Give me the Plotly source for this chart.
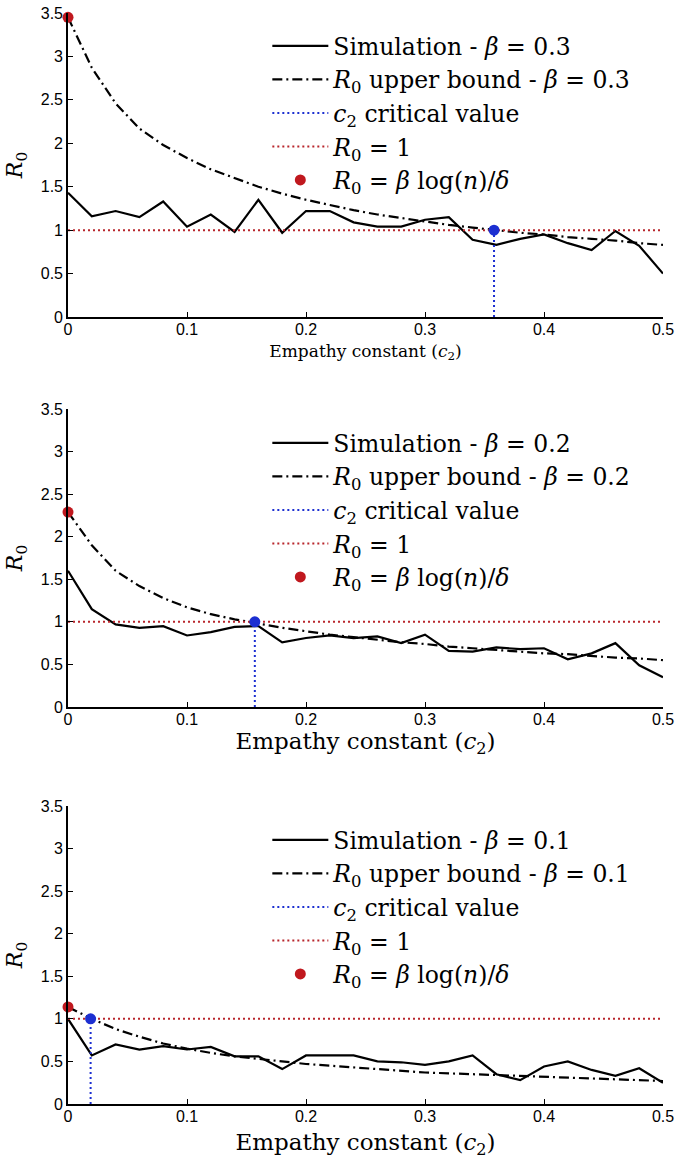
import plotly.graph_objects as go

# ---------------- data ----------------
c2 = [0.00, 0.02, 0.04, 0.06, 0.08, 0.10, 0.12, 0.14, 0.16, 0.18, 0.20, 0.22, 0.24,
      0.26, 0.28, 0.30, 0.32, 0.34, 0.36, 0.38, 0.40, 0.42, 0.44, 0.46, 0.48, 0.50]

sim_b03 = [1.43, 1.16, 1.22, 1.15, 1.33, 1.04, 1.18, 0.98, 1.35, 0.97, 1.22, 1.22, 1.09,
           1.04, 1.04, 1.12, 1.15, 0.89, 0.83, 0.90, 0.95, 0.85, 0.77, 0.99, 0.82, 0.50]
bound_b03 = [3.45, 2.87, 2.46, 2.17, 1.98, 1.83, 1.70, 1.60, 1.50, 1.42, 1.35, 1.29, 1.23,
             1.18, 1.14, 1.10, 1.06, 1.03, 1.00, 0.97, 0.95, 0.92, 0.90, 0.88, 0.85, 0.83]

sim_b02 = [1.60, 1.15, 0.97, 0.93, 0.95, 0.84, 0.88, 0.94, 0.95, 0.76, 0.81, 0.84, 0.81,
           0.83, 0.75, 0.85, 0.66, 0.65, 0.70, 0.68, 0.69, 0.56, 0.63, 0.75, 0.49, 0.35]
bound_b02 = [2.29, 1.90, 1.60, 1.42, 1.28, 1.17, 1.09, 1.03, 0.98, 0.93, 0.89, 0.85, 0.82,
             0.79, 0.76, 0.74, 0.71, 0.69, 0.67, 0.65, 0.63, 0.62, 0.60, 0.58, 0.57, 0.55]

sim_b01 = [1.00, 0.57, 0.70, 0.64, 0.68, 0.64, 0.67, 0.56, 0.56, 0.41, 0.57, 0.57, 0.57,
           0.50, 0.49, 0.46, 0.50, 0.57, 0.35, 0.28, 0.44, 0.50, 0.40, 0.33, 0.42, 0.25]
bound_b01 = [1.14, 1.00, 0.88, 0.79, 0.71, 0.65, 0.60, 0.56, 0.53, 0.50, 0.47, 0.45, 0.43,
             0.41, 0.39, 0.37, 0.36, 0.35, 0.34, 0.33, 0.32, 0.31, 0.30, 0.29, 0.28, 0.27]

betas = ["0.3", "0.2", "0.1"]
sims = [sim_b03, sim_b02, sim_b01]
bounds = [bound_b03, bound_b02, bound_b01]
critical_c2 = [0.358, 0.157, 0.019]
r0_start = [3.45, 2.29, 1.14]

x_ticks = [0, 0.1, 0.2, 0.3, 0.4, 0.5]
y_ticks = [0, 0.5, 1, 1.5, 2, 2.5, 3, 3.5]

# ---------------- style ----------------
SERIF = "DejaVu Serif"
SANS = "Liberation Sans"
RED = "#c0181e"
RED_LINE = "#b8262c"
BLUE = "#1c2fd1"

W, H = 675, 1162
ML, MR, MT, MB = 68, 12, 13, 58
ph = H - MT - MB
def yfrac(py):
    return (H - MB - py) / ph

panel_px = [(13, 317), (409, 707), (806, 1104)]
legend_top_px = [24, 421, 818]
title_sizes = [17, 23, 23]
title_standoff = [8, 4, 10]

fig = go.Figure()
layout = {}
for i in range(3):
    suf = "" if i == 0 else str(i + 1)
    xa, ya = "x" + suf, "y" + suf
    leg = "legend" + suf
    b = betas[i]
    fig.add_trace(go.Scatter(
        x=c2, y=sims[i], mode="lines", xaxis=xa, yaxis=ya, legend=leg,
        line=dict(color="black", width=2.2),
        name=f"Simulation - <i>β</i> = {b}"))
    fig.add_trace(go.Scatter(
        x=c2, y=bounds[i], mode="lines", xaxis=xa, yaxis=ya, legend=leg,
        line=dict(color="black", width=2.2, dash="10px,4px,2px,4px"),
        name=f"<i>R</i><sub>0</sub> upper bound - <i>β</i> = {b}"))
    fig.add_trace(go.Scatter(
        x=[critical_c2[i], critical_c2[i]], y=[0, 1], mode="lines",
        xaxis=xa, yaxis=ya, legend=leg,
        line=dict(color=BLUE, width=2, dash="2px,3px"),
        name="<i>c</i><sub>2</sub> critical value"))
    fig.add_trace(go.Scatter(
        x=[0, 0.5], y=[1, 1], mode="lines", xaxis=xa, yaxis=ya, legend=leg,
        line=dict(color=RED_LINE, width=2, dash="2px,3px"),
        name="<i>R</i><sub>0</sub> = 1"))
    fig.add_trace(go.Scatter(
        x=[critical_c2[i]], y=[1], mode="markers", xaxis=xa, yaxis=ya,
        showlegend=False, cliponaxis=False,
        marker=dict(color=BLUE, size=11)))
    fig.add_trace(go.Scatter(
        x=[0], y=[r0_start[i]], mode="markers", xaxis=xa, yaxis=ya, legend=leg,
        cliponaxis=False,
        marker=dict(color=RED, size=11),
        name="<i>R</i><sub>0</sub> = <i>β</i> log(<i>n</i>)/<i>δ</i>"))

    top, bot = panel_px[i]
    layout["xaxis" + suf] = dict(
        domain=[0, 1], anchor=ya, range=[0, 0.5], tickvals=x_ticks,
        automargin=False, ticklabelstandoff=-3, ticklabeloverflow="allow",
        ticks="inside", ticklen=5, tickwidth=1.3, tickcolor="black",
        showline=True, linecolor="black", linewidth=1.6, showgrid=False,
        zeroline=False, tickfont=dict(family=SANS, size=16, color="black"),
        title=dict(text="Empathy constant (<i>c</i><sub>2</sub>)",
                   font=dict(family=SERIF, size=title_sizes[i], color="black"),
                   standoff=title_standoff[i]))
    layout["yaxis" + suf] = dict(
        domain=[yfrac(bot), yfrac(top)], anchor=xa, range=[0, 3.5], tickvals=y_ticks,
        automargin=False, ticklabelstandoff=0, ticklabeloverflow="allow",
        ticks="inside", ticklen=5, tickwidth=1.3, tickcolor="black",
        showline=True, linecolor="black", linewidth=1.6, showgrid=False,
        zeroline=False, tickfont=dict(family=SANS, size=16, color="black"),
        title=dict(text="<i>R</i><sub>0</sub>",
                   font=dict(family=SERIF, size=22, color="black"), standoff=12))
    layout["legend" + suf] = dict(
        x=0.335, xanchor="left", y=yfrac(legend_top_px[i]), yanchor="top",
        bgcolor="rgba(0,0,0,0)", borderwidth=0, itemwidth=56,
        traceorder="normal", tracegroupgap=0,
        font=dict(family=SERIF, size=23.5, color="black"))

fig.update_layout(
    template="none",
    width=W, height=H, autosize=False,
    margin=dict(l=ML, r=MR, t=MT, b=MB, autoexpand=False),
    paper_bgcolor="white", plot_bgcolor="white",
    font=dict(family=SERIF, color="black"),
    showlegend=True,
    **layout)

fig.write_html("out.html",
               config={"displayModeBar": False},
               post_script="document.body.style.margin='0px';"
                           "document.body.style.overflow='hidden';")
